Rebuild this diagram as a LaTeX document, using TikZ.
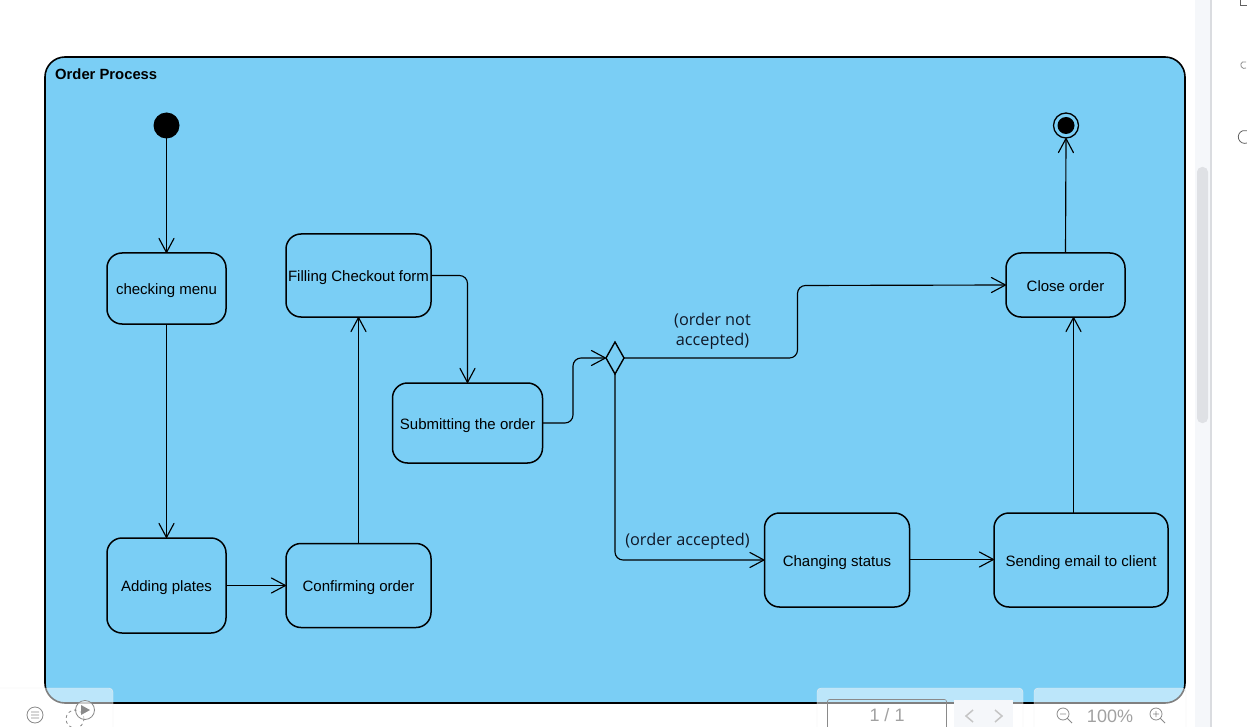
\documentclass[tikz,border=0pt]{standalone}
\usepackage{fontspec}
\setmainfont{Liberation Sans}
\newfontfamily\labelfont{Open Sans}
\usetikzlibrary{arrows.meta,shapes.geometric}
\definecolor{framefill}{HTML}{7ACEF5}
\definecolor{barfill}{HTML}{F5F7FA}
\definecolor{barline}{HTML}{DADCE0}
\definecolor{thumbfill}{HTML}{DFE1E5}
\definecolor{toolgray}{HTML}{8A8A8A}
\definecolor{guardtext}{HTML}{101828}
\tikzset{
    activity/.style={draw,rounded corners=15pt,line width=1.5pt,inner sep=0pt,outer sep=0pt,text height=15pt,text depth=3pt,font=\fontsize{15}{17}\selectfont},
    flow/.style={line width=1.15pt,rounded corners=8pt,-{Straight Barb[length=14pt,width=15pt,line width=1.15pt,round]}},
    guard/.style={font=\labelfont\fontsize{16.3}{20}\selectfont,text=guardtext,align=center,inner sep=0pt},
    panel/.style={fill=white,fill opacity=0.5,draw=black!8,rounded corners=4pt},
    tool/.style={draw=toolgray,line width=0.8pt},
    pagetext/.style={font=\fontsize{18}{20}\selectfont,text=toolgray!80,inner sep=0pt}
}
\begin{document}
\begin{tikzpicture}[x=1pt,y=-1pt]
    \useasboundingbox (0,0) rectangle (1247,727);
    % frame
    \node[draw,fill=framefill,line width=1.6pt,rounded corners=20pt,minimum width=1140pt,minimum height=646pt,outer sep=0pt] (frame) at (615,380) {};
    \node[anchor=west,inner sep=0pt,font=\bfseries\fontsize{14.8}{17}\selectfont] (title) at (55,74) {Order Process};
    % start and end
    \node[circle,fill=black,minimum size=26pt,inner sep=0pt,outer sep=0pt] (start) at (166.5,125.5) {};
    \node[circle,draw,line width=1.3pt,minimum size=25pt,inner sep=0pt,outer sep=0pt] (finish) at (1066,125.5) {};
    \node[circle,fill=black,minimum size=17pt,inner sep=0pt] (finishdot) at (1066,125.5) {};
    % activities
    \node[activity,minimum width=119pt,minimum height=71pt] (menu) at (166.5,288.5) {checking menu};
    \node[activity,minimum width=119pt,minimum height=95pt] (plates) at (166.5,585.5) {Adding plates};
    \node[activity,minimum width=145pt,minimum height=84pt] (confirm) at (358.5,585.5) {Confirming order};
    \node[activity,minimum width=145pt,minimum height=83pt] (filling) at (358.5,275.5) {Filling Checkout form};
    \node[activity,minimum width=150pt,minimum height=80pt] (submit) at (467.5,423) {Submitting the order};
    \node[activity,minimum width=145pt,minimum height=94pt] (status) at (837,560) {Changing status};
    \node[activity,minimum width=174pt,minimum height=94pt] (email) at (1081,560) {Sending email to client};
    \node[activity,minimum width=119pt,minimum height=64pt] (close) at (1065.5,285) {Close order};
    \node[diamond,draw,line width=1.4pt,aspect=0.56,minimum width=18pt,minimum height=32pt,inner sep=0pt,outer sep=0pt] (choice) at (615,358) {};
    % bends
    \coordinate (bendsubmit) at (573,358);
    \coordinate (bendnot) at (797.5,285.5);
    % connectors
    \draw[flow] (start) -- (menu);
    \draw[flow] (menu) -- (plates);
    \draw[flow] (plates) -- (confirm);
    \draw[flow] (confirm) -- (filling);
    \draw[flow] (filling.east) -| (submit.north);
    \draw[flow] (submit.east) -| (bendsubmit) -- (choice.west);
    \draw[flow] (choice.east) -| (bendnot) -- (close.west);
    \draw[flow] (choice.south) |- (status.west);
    \draw[flow] ([yshift=0.5pt]status.east) -- ([yshift=0.5pt]email.west);
    \draw[flow] ([xshift=-7.5pt]email.north) -- ([xshift=8pt]close.south);
    \draw[flow] (close.north) -- (finish.south);
    % guards
    \node[guard] (notaccepted) at (712.5,331.5) {(order not\\accepted)};
    \node[guard] (accepted) at (687.5,541) {(order accepted)};
    % viewer tools
    \filldraw[panel] (-6,688) rectangle (113,735);
    \filldraw[panel] (817,688) rectangle (1023,735);
    \filldraw[panel] (1034,688) rectangle (1186,735);
    \node[draw=toolgray,line width=0.6pt,rounded corners=2pt,minimum width=119pt,minimum height=40pt,inner sep=0pt] (pagebox) at (887,719.5) {};
    \node[pagetext] (pagenum) at (887,715) {1 / 1};
    \fill[barfill] (954,700) rectangle (1013,727);
    \draw[toolgray!50,line width=1.5pt] (973,710) -- (966,716) -- (973,722) (995,710) -- (1002,716) -- (995,722);
    \node[pagetext] (zoomtext) at (1110,716.5) {100\%};
    \draw[tool] (1063,714) circle (6pt) (1060,714) -- (1066,714) (1067.5,718.5) -- (1072,723);
    \draw[tool] (1156,714) circle (6pt) (1153,714) -- (1159,714) (1156,711) -- (1156,717) (1160.5,718.5) -- (1165,723);
    \draw[tool] (35,715) circle (8pt) (31,712) -- (39,712) (31,715) -- (39,715) (31,718) -- (39,718);
    \draw[tool,dashed] (75,719) circle (9pt);
    \draw[tool,fill=white,fill opacity=0.6] (85,710) circle (9.5pt);
    \fill[toolgray] (81,705) -- (90,710) -- (81,715) -- cycle;
    % scroll bar
    \fill[barfill] (1195,0) rectangle (1210,727);
    \fill[barline] (1210,0) rectangle (1212,727);
    \fill[thumbfill,rounded corners=5pt] (1197,167) rectangle (1208,423);
    \draw[toolgray!70!black,line width=0.8pt] (1240,0) -- (1240,5.5) -- (1247,5.5);
    \draw[toolgray,line width=0.8pt] (1246,68) arc (60:300:3.5);
    \draw[toolgray!70!black,line width=0.8pt] (1247,143) arc (70:290:6.5);
\end{tikzpicture}
\end{document}
